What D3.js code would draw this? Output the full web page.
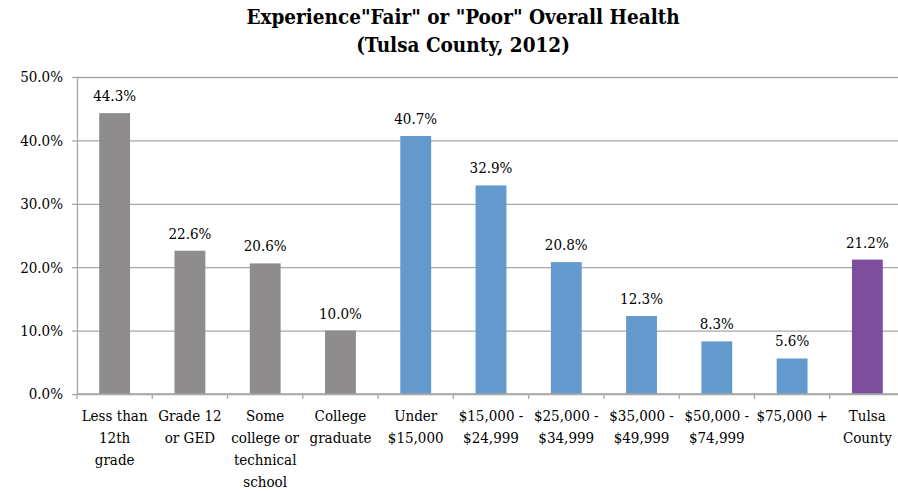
<!DOCTYPE html>
<html>
<head>
<meta charset="utf-8">
<script src="https://cdn.jsdelivr.net/npm/d3@7"></script>
<style>
  body { margin: 0; background: #fff; }
  svg text { font-family: "DejaVu Serif Condensed", "DejaVu Serif", serif !important; font-stretch: condensed; fill: #000; }
</style>
</head>
<body>
<div id="chart"></div>
<script>
var categories = [
  ["Less than", "12th", "grade"],
  ["Grade 12", "or GED"],
  ["Some", "college or", "technical", "school"],
  ["College", "graduate"],
  ["Under", "$15,000"],
  ["$15,000 -", "$24,999"],
  ["$25,000 -", "$34,999"],
  ["$35,000 -", "$49,999"],
  ["$50,000 -", "$74,999"],
  ["$75,000 +"],
  ["Tulsa", "County"]
];
var values = [44.3, 22.6, 20.6, 10.0, 40.7, 32.9, 20.8, 12.3, 8.3, 5.6, 21.2];
var groups = ["edu", "edu", "edu", "edu", "inc", "inc", "inc", "inc", "inc", "inc", "all"];
var yTicks = [0, 10, 20, 30, 40, 50];
var colors = { edu: "#8e8c8d", inc: "#6399cc", all: "#7e4e9e" };

var svg = d3.select("#chart").append("svg")
    .attr("width", 898)
    .attr("height", 491);

var plotLeft = 77, plotRight = 905, plotTop = 77, plotBottom = 394;

var x = d3.scaleBand()
    .domain(d3.range(values.length))
    .range([plotLeft, plotRight])
    .paddingInner(0.59)
    .paddingOuter(0.295);

var y = d3.scaleLinear().domain([0, 50]).range([plotBottom, plotTop]);

// title
var title = svg.append("text")
    .attr("text-anchor", "middle")
    .style("font-weight", "bold")
    .style("font-size", "20.5px");
title.append("tspan").attr("x", 463).attr("y", 24).text('Experience"Fair" or "Poor" Overall Health');
title.append("tspan").attr("x", 463).attr("y", 52).text("(Tulsa County, 2012)");

// grid
svg.append("g")
    .attr("transform", "translate(" + plotLeft + ",0)")
    .call(d3.axisLeft(y).tickValues(yTicks).tickSize(-(plotRight - plotLeft)).tickFormat(""))
    .call(function (g) {
        g.select(".domain").remove();
        g.selectAll("line").attr("stroke", "#a6a6a6").attr("stroke-width", 1.3);
    });

// y axis
svg.append("g")
    .attr("transform", "translate(" + plotLeft + ",0)")
    .call(d3.axisLeft(y).tickValues(yTicks).tickSizeInner(5).tickSizeOuter(0)
        .tickFormat(function (d) { return d3.format(".1f")(d) + "%"; }))
    .call(function (g) {
        g.attr("font-family", null);
        g.select(".domain").attr("stroke", "#a6a6a6").attr("stroke-width", 1.3);
        g.selectAll("line").attr("stroke", "#a6a6a6").attr("stroke-width", 1.3);
        g.selectAll("text").attr("x", -14).style("font-size", "15px");
    });

// bars
svg.selectAll(".bar")
    .data(values)
    .enter().append("rect")
    .attr("class", "bar")
    .attr("x", function (d, i) { return x(i); })
    .attr("y", function (d) { return y(d); })
    .attr("width", x.bandwidth())
    .attr("height", function (d) { return y(0) - y(d); })
    .attr("fill", function (d, i) { return colors[groups[i]]; });

// value labels
svg.selectAll(".val")
    .data(values)
    .enter().append("text")
    .attr("class", "val")
    .attr("x", function (d, i) { return x(i) + x.bandwidth() / 2; })
    .attr("y", function (d) { return y(d) - 12; })
    .attr("text-anchor", "middle")
    .style("font-size", "15px")
    .text(function (d) { return d.toFixed(1) + "%"; });

// x axis
var step = x.step();
var xAxis = svg.append("g").attr("transform", "translate(0," + plotBottom + ")");
xAxis.append("line")
    .attr("x1", plotLeft).attr("x2", plotRight)
    .attr("stroke", "#a6a6a6").attr("stroke-width", 1.3);
xAxis.selectAll(".tick")
    .data(d3.range(values.length + 1))
    .enter().append("line")
    .attr("x1", function (i) { return plotLeft + i * step; })
    .attr("x2", function (i) { return plotLeft + i * step; })
    .attr("y1", 0).attr("y2", 5)
    .attr("stroke", "#a6a6a6").attr("stroke-width", 1.3);

xAxis.selectAll(".lab")
    .data(categories)
    .enter().append("text")
    .attr("class", "lab")
    .attr("text-anchor", "middle")
    .style("font-size", "15px")
    .each(function (lines, i) {
        var cx = x(i) + x.bandwidth() / 2;
        d3.select(this).selectAll("tspan")
            .data(lines)
            .enter().append("tspan")
            .attr("x", cx)
            .attr("y", function (d, j) { return 27 + j * 22; })
            .text(function (d) { return d; });
    });
</script>
</body>
</html>
